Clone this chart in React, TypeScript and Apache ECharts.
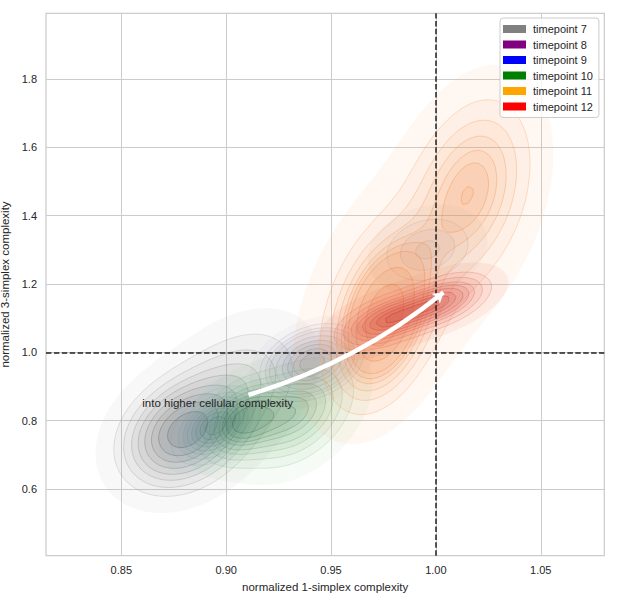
import React, { useEffect, useRef } from "react";
import * as echarts from "echarts";

// ---------- data ----------
const X_RANGE = [0.8141, 1.0803];
const Y_RANGE = [0.404, 1.993];
const X_TICKS = [0.85, 0.9, 0.95, 1.0, 1.05];
const Y_TICKS = [0.6, 0.8, 1.0, 1.2, 1.4, 1.6, 1.8];
const X_LABEL = "normalized 1-simplex complexity";
const Y_LABEL = "normalized 3-simplex complexity";

const TIMEPOINTS = ["timepoint 7", "timepoint 8", "timepoint 9", "timepoint 10", "timepoint 11", "timepoint 12"];
const LEGEND_COLORS = ["gray", "purple", "blue", "green", "orange", "red"];

// density modes per timepoint: [centre x, centre y, sd x, sd y, correlation, weight]
const TP7 = [
  [0.879, 0.76, 0.017, 0.095, 0.25, 0.65],
  [0.905, 0.9, 0.02, 0.115, 0.35, 0.35],
];
const TP8 = [
  [0.941, 0.97, 0.011, 0.05, 0.3, 0.75],
  [0.996, 1.3, 0.014, 0.065, 0.2, 0.25],
];
const TP9 = [[0.895, 0.785, 0.011, 0.06, 0.4, 1]];
const TP10 = [
  [0.907, 0.8, 0.012, 0.07, 0.35, 0.4],
  [0.934, 0.825, 0.016, 0.095, 0.4, 0.6],
];
const TP11 = [
  [0.975, 1.1, 0.013, 0.13, 0.35, 0.4],
  [1.017, 1.48, 0.017, 0.16, 0.3, 0.32],
  [0.983, 1.2, 0.028, 0.23, 0.5, 0.28],
];
const TP12 = [
  [0.975, 1.09, 0.014, 0.05, 0.5, 0.5],
  [1.003, 1.15, 0.014, 0.05, 0.5, 0.5],
];
const MODES = [TP7, TP8, TP9, TP10, TP11, TP12];

// reference lines
const REF_X = 1.0;
const REF_Y = 1.0;

// annotation
const ANNOT_TEXT = "into higher cellular complexity";
const ANNOT_POS = [0.86, 0.84];
const ARROW_FROM = [0.9106, 0.875];
const ARROW_TO = [1.0036, 1.175];

// iso-proportion levels (as seaborn kdeplot, thresh 0.05, 10 levels)
const ISO_PROPS = [0.05, 0.1556, 0.2611, 0.3667, 0.4722, 0.5778, 0.6833, 0.7889, 0.8944];

// ---------- styles ----------
const FILL_LIGHT = [
  [150, 150, 150],
  [150, 140, 175],
  [107, 174, 214],
  [116, 196, 118],
  [250, 170, 110],
  [240, 120, 100],
];
const FILL_DARK = [
  [37, 37, 37],
  [75, 55, 110],
  [8, 48, 107],
  [0, 68, 27],
  [235, 110, 35],
  [190, 30, 30],
];
const FILL_ALPHA = [0.065, 0.05, 0.045, 0.065, 0.085, 0.1];
const STROKE_ALPHA = [0.3, 0.25, 0.22, 0.28, 0.42, 0.4];
const FONT = '"Liberation Sans", Arial, sans-serif';
const TEXT_COLOR = "#262626";

function levelColor(idx: number, k: number, alpha: number) {
  const f = k / (ISO_PROPS.length - 1);
  const a = FILL_LIGHT[idx];
  const b = FILL_DARK[idx];
  const c = a.map((v, i) => Math.round(v + (b[i] - v) * f));
  return `rgba(${c[0]},${c[1]},${c[2]},${alpha})`;
}

// ---------- kde contours (marching squares on a mixture density) ----------
const G_X0 = 0.72, G_X1 = 1.18, G_Y0 = 0.0, G_Y1 = 2.4, NX = 190, NY = 190;

function density(modes: number[][], x: number, y: number) {
  let f = 0;
  for (const m of modes) {
    const [cx, cy, sx, sy, rho, w] = m;
    const u = (x - cx) / sx;
    const v = (y - cy) / sy;
    const q = 1 - rho * rho;
    f += (w * Math.exp((-0.5 * (u * u - 2 * rho * u * v + v * v)) / q)) / (sx * sy * Math.sqrt(q));
  }
  return f;
}

function contours(modes: number[][]): number[][][][] {
  const dx = (G_X1 - G_X0) / NX;
  const dy = (G_Y1 - G_Y0) / NY;
  const W = NX + 1;
  const V = new Float64Array(W * (NY + 1));
  for (let j = 0; j <= NY; j++)
    for (let i = 0; i <= NX; i++) V[j * W + i] = density(modes, G_X0 + i * dx, G_Y0 + j * dy);
  const sorted = Array.from(V).sort((a, b) => b - a);
  let total = 0;
  for (const s of sorted) total += s;
  const cum: number[] = [];
  let acc = 0;
  for (const s of sorted) {
    acc += s;
    cum.push(acc / total);
  }
  const levels = ISO_PROPS.map((p) => {
    const target = 1 - p;
    let lo = 0, hi = cum.length - 1;
    while (lo < hi) {
      const mid = (lo + hi) >> 1;
      if (cum[mid] < target) lo = mid + 1;
      else hi = mid;
    }
    return sorted[lo];
  });

  const val = (i: number, j: number) => V[j * W + i];
  return levels.map((t) => {
    const adj = new Map<number, number[]>();
    const link = (a: number, b: number) => {
      if (!adj.has(a)) adj.set(a, []);
      if (!adj.has(b)) adj.set(b, []);
      adj.get(a)!.push(b);
      adj.get(b)!.push(a);
    };
    for (let j = 0; j < NY; j++) {
      for (let i = 0; i < NX; i++) {
        const v0 = val(i, j), v1 = val(i + 1, j), v2 = val(i + 1, j + 1), v3 = val(i, j + 1);
        const code = (v0 >= t ? 1 : 0) | (v1 >= t ? 2 : 0) | (v2 >= t ? 4 : 0) | (v3 >= t ? 8 : 0);
        if (code === 0 || code === 15) continue;
        const e0 = 2 * (j * W + i);
        const e1 = 2 * (j * W + i + 1) + 1;
        const e2 = 2 * ((j + 1) * W + i);
        const e3 = 2 * (j * W + i) + 1;
        const centre = (v0 + v1 + v2 + v3) / 4 >= t;
        switch (code) {
          case 1: case 14: link(e3, e0); break;
          case 2: case 13: link(e0, e1); break;
          case 3: case 12: link(e3, e1); break;
          case 4: case 11: link(e1, e2); break;
          case 6: case 9: link(e0, e2); break;
          case 7: case 8: link(e3, e2); break;
          case 5:
            if (centre) { link(e0, e1); link(e2, e3); } else { link(e3, e0); link(e1, e2); }
            break;
          case 10:
            if (centre) { link(e3, e0); link(e1, e2); } else { link(e0, e1); link(e2, e3); }
            break;
        }
      }
    }
    const point = (key: number) => {
      const isV = key & 1;
      const node = key >> 1;
      const i = node % W;
      const j = (node - i) / W;
      if (!isV) {
        const a = val(i, j), b = val(i + 1, j);
        return [G_X0 + (i + (t - a) / (b - a)) * dx, G_Y0 + j * dy];
      }
      const a = val(i, j), b = val(i, j + 1);
      return [G_X0 + i * dx, G_Y0 + (j + (t - a) / (b - a)) * dy];
    };
    const seen = new Set<number>();
    const loops: number[][][] = [];
    for (const start of adj.keys()) {
      if (seen.has(start)) continue;
      const pts: number[][] = [];
      let prev = -1, cur = start;
      while (true) {
        seen.add(cur);
        pts.push(point(cur));
        const nb = adj.get(cur)!;
        let next = -1;
        for (const n of nb) if (n !== prev && !seen.has(n)) { next = n; break; }
        if (next < 0) break;
        prev = cur;
        cur = next;
      }
      if (pts.length > 2) loops.push(pts);
    }
    return loops;
  });
}

function contourRenderer(idx: number, levelLoops: number[][][][]) {
  return (params: any, api: any) => {
    const k = params.dataIndex;
    const loops = levelLoops[k] || [];
    const fill = levelColor(idx, k, FILL_ALPHA[idx]);
    const stroke = k === 0 ? "none" : levelColor(idx, k, STROKE_ALPHA[idx]);
    const children = loops.map((loop) => ({
      type: "polygon",
      shape: { points: loop.map((p) => api.coord(p)) },
      style: { fill, stroke, lineWidth: 0.8 },
    }));
    return { type: "group", children };
  };
}

export default function App() {
  const ref = useRef<HTMLDivElement>(null);
  useEffect(() => {
    if (!ref.current) return;
    const chart = echarts.init(ref.current, null, { renderer: "svg" });
    const contourSeries = TIMEPOINTS.map((name, i) => {
      const loops = contours(MODES[i]);
      return {
        name,
        type: "custom",
        coordinateSystem: "cartesian2d",
        renderItem: contourRenderer(i, loops),
        data: ISO_PROPS.map((p) => [p]),
        itemStyle: { color: LEGEND_COLORS[i] },
        clip: true,
        silent: true,
        z: 2,
      };
    });
    const option: any = {
      animation: false,
      textStyle: { fontFamily: FONT },
      grid: {
        left: 46,
        right: 12.7,
        top: 13.3,
        bottom: 41.3,
        show: true,
        borderColor: "#cccccc",
        borderWidth: 1.25,
        backgroundColor: "transparent",
        containLabel: false,
        outerBoundsMode: "none",
      },
      xAxis: {
        type: "value",
        min: X_RANGE[0],
        max: X_RANGE[1],
        axisLine: { show: false },
        axisTick: { show: false, customValues: X_TICKS },
        axisLabel: {
          customValues: X_TICKS,
          formatter: (v: number) => v.toFixed(2),
          margin: 9,
          fontSize: 11,
          color: TEXT_COLOR,
          fontFamily: FONT,
        },
        splitLine: { show: true, lineStyle: { color: "#cccccc", width: 1 } },
        name: X_LABEL,
        nameLocation: "middle",
        nameGap: 22,
        nameTextStyle: { fontSize: 11.5, color: TEXT_COLOR, fontFamily: FONT },
      },
      yAxis: {
        type: "value",
        min: Y_RANGE[0],
        max: Y_RANGE[1],
        axisLine: { show: false },
        axisTick: { show: false, customValues: Y_TICKS },
        axisLabel: {
          customValues: Y_TICKS,
          formatter: (v: number) => v.toFixed(1),
          margin: 9,
          fontSize: 11,
          color: TEXT_COLOR,
          fontFamily: FONT,
        },
        splitLine: { show: true, lineStyle: { color: "#cccccc", width: 1 } },
        name: Y_LABEL,
        nameLocation: "middle",
        nameGap: 22,
        nameRotate: 90,
        nameTextStyle: { fontSize: 11.5, color: TEXT_COLOR, fontFamily: FONT },
      },
      legend: {
        orient: "vertical",
        left: 500,
        top: 18,
        icon: "rect",
        itemWidth: 23,
        itemHeight: 8,
        itemGap: 3.5,
        padding: [5, 6, 5, 3],
        backgroundColor: "rgba(255,255,255,0.8)",
        borderColor: "#cccccc",
        borderWidth: 1,
        borderRadius: 3,
        textStyle: { fontSize: 11, color: TEXT_COLOR, fontFamily: FONT, lineHeight: 12, padding: [0, 0, 0, 2] },
        data: TIMEPOINTS,
        selectedMode: false,
      },
      series: [
        ...contourSeries,
        {
          type: "line",
          data: [],
          silent: true,
          z: 10,
          markLine: {
            silent: true,
            symbol: "none",
            label: { show: false },
            lineStyle: { color: "#222222", width: 1.5, type: [5.5, 2.4] },
            data: [{ xAxis: REF_X }, { yAxis: REF_Y }],
          },
        },
        {
          type: "custom",
          coordinateSystem: "cartesian2d",
          silent: true,
          z: 11,
          data: [ANNOT_POS],
          encode: { x: 0, y: 1 },
          renderItem: (params: any, api: any) => {
            const p = api.coord([api.value(0), api.value(1)]);
            return {
              type: "text",
              x: p[0],
              y: p[1] - 4,
              style: {
                text: ANNOT_TEXT,
                fill: TEXT_COLOR,
                font: `11.5px ${FONT}`,
                verticalAlign: "middle",
                align: "left",
              },
            };
          },
        },
        {
          type: "lines",
          coordinateSystem: "cartesian2d",
          silent: true,
          z: 12,
          symbol: ["none", "arrow"],
          symbolSize: [0, 10],
          lineStyle: { color: "#ffffff", width: 4.5, opacity: 1, curveness: -0.1 },
          data: [{ coords: [ARROW_FROM, ARROW_TO] }],
        },
      ],
    };
    chart.setOption(option);
    return () => chart.dispose();
  }, []);
  return (
    <div
      ref={ref}
      style={{ position: "fixed", left: 0, top: 0, width: 617, height: 597, background: "#ffffff" }}
    />
  );
}
